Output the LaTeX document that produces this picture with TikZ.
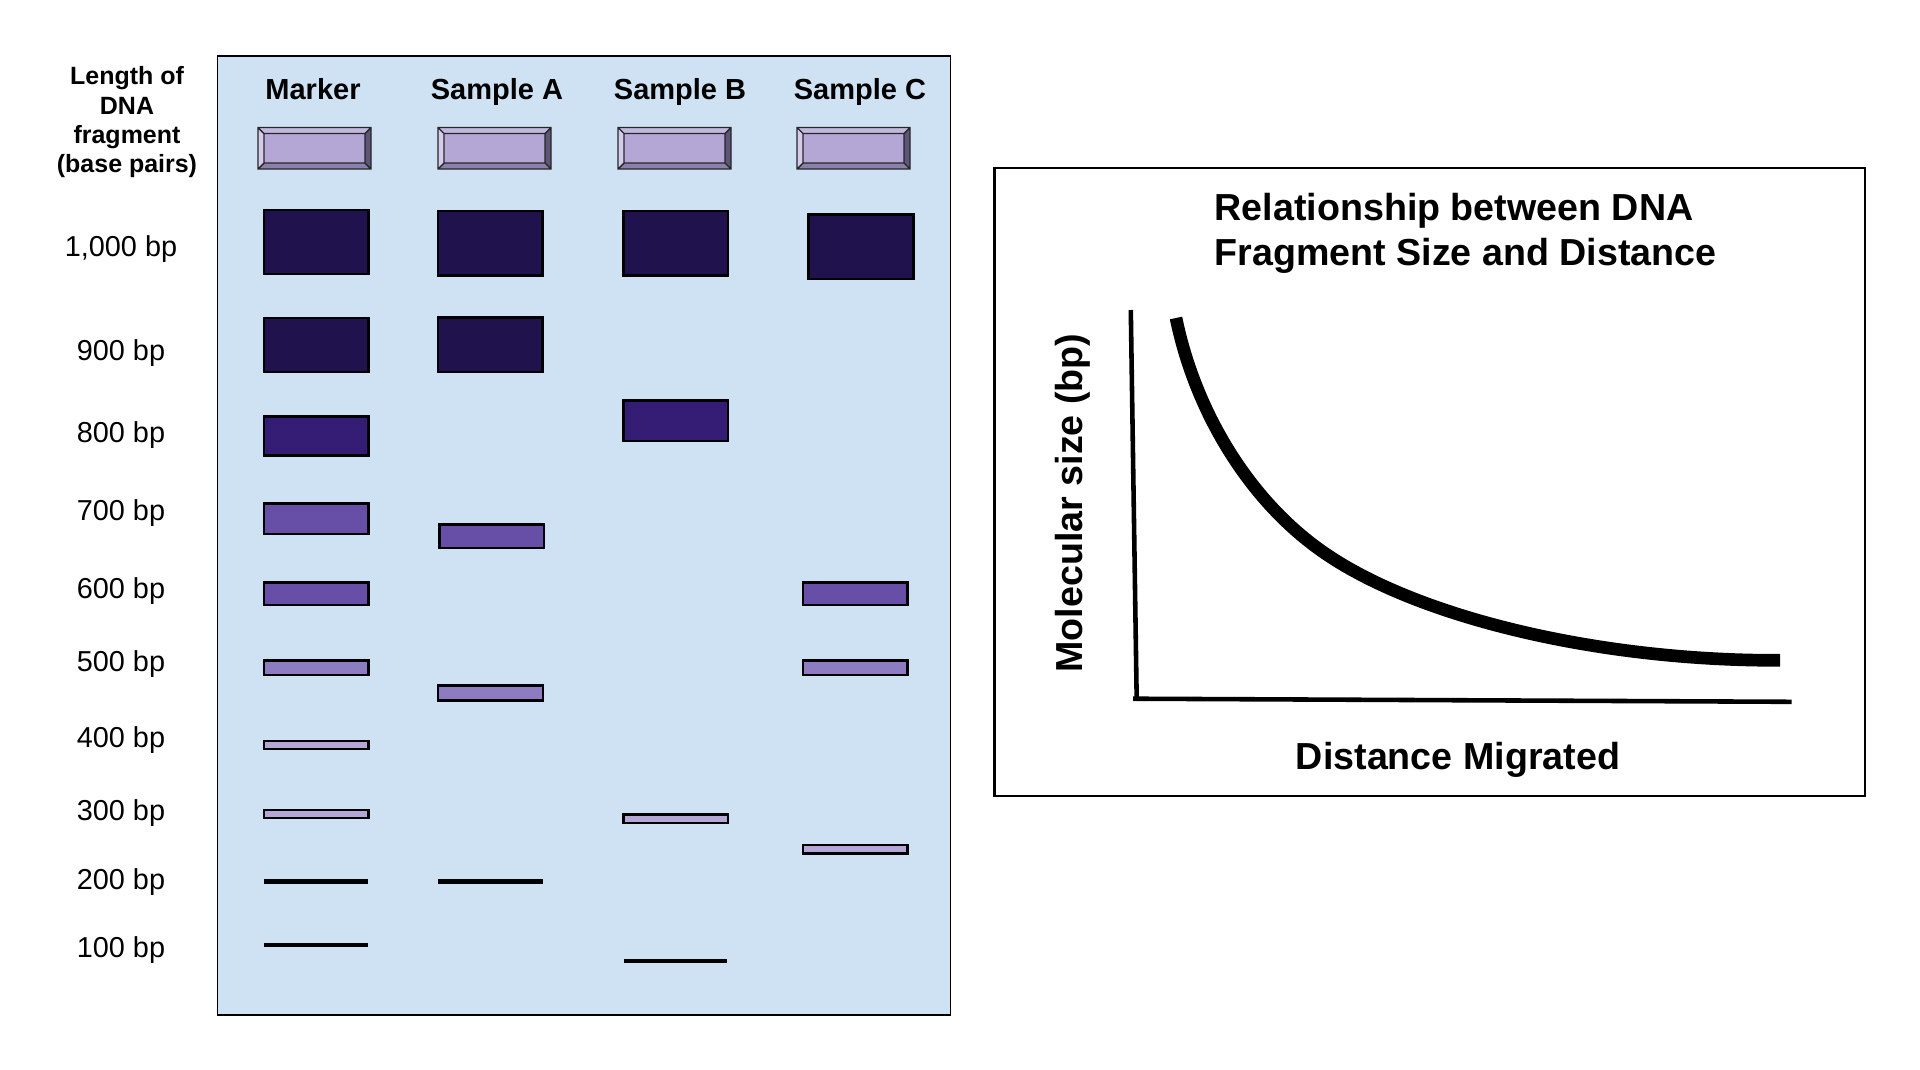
\documentclass[tikz,border=0pt]{standalone}
\usepackage{fontspec}
\setmainfont{Liberation Sans}
\definecolor{gelBlue}{HTML}{CFE2F3}
\definecolor{wellFill}{HTML}{B4A7D6}
\definecolor{wellTop}{HTML}{C2B8DF}
\definecolor{wellLight}{HTML}{D4CCEA}
\definecolor{wellDark}{HTML}{5E5677}
\definecolor{wellLow}{HTML}{8B80AA}
\definecolor{bandDark}{HTML}{20124D}
\definecolor{bandDeep}{HTML}{351C75}
\definecolor{bandMid}{HTML}{674EA7}
\definecolor{bandLight}{HTML}{8E7CC3}
\definecolor{bandPale}{HTML}{B4A7D6}

% bevelled loading well, #1 = left edge
\newcommand{\gelwell}[1]{%
  \fill[wellFill] (#1,127.5) rectangle (#1+113,169);
  \fill[wellTop] (#1,127.5) -- (#1+113,127.5) -- (#1+107,133.5) -- (#1+6,133.5) -- cycle;
  \fill[wellLight] (#1,127.5) -- (#1+6,133.5) -- (#1+6,163) -- (#1,169) -- cycle;
  \fill[wellDark] (#1+113,127.5) -- (#1+113,169) -- (#1+107,163) -- (#1+107,133.5) -- cycle;
  \fill[wellLow] (#1,169) -- (#1+113,169) -- (#1+107,163) -- (#1+6,163) -- cycle;
  \draw[line width=0.4pt, black!85]
    (#1,127.5) rectangle (#1+113,169)
    (#1+6,133.5) rectangle (#1+107,163)
    (#1,127.5) -- (#1+6,133.5) (#1+113,127.5) -- (#1+107,133.5)
    (#1,169) -- (#1+6,163) (#1+113,169) -- (#1+107,163);
}

\begin{document}
\begin{tikzpicture}[
  x=0.01cm, y=-0.01cm,
  band/.style={draw=black, line width=0.7pt},
  bpline/.style={draw=black, line width=1.3pt},
  bptext/.style={font=\fontsize{8.2}{9.8}\selectfont, anchor=base, inner sep=0},
  lanehead/.style={font=\bfseries\fontsize{8.25}{9.9}\selectfont, anchor=base, inner sep=0},
  charttext/.style={font=\bfseries\fontsize{10.7}{12.8}\selectfont, inner sep=0}
]
  \useasboundingbox (0,0) rectangle (1920,1069);
  \fill[white] (0,0) rectangle (1920,1069);

  % Gel slab
  \draw[fill=gelBlue, line width=0.5pt] (217.5,56) rectangle (950.5,1015);

  % Size column
  \node[font=\bfseries\fontsize{7.1}{8.33}\selectfont, align=center, anchor=north, inner sep=0]
    (sizehead) at (127,66) {Length of\\DNA\\fragment\\(base pairs)};
  \node[bptext] (bp1000) at (121,256.7) {1,000 bp};
  \node[bptext] (bp900) at (121,360) {900 bp};
  \node[bptext] (bp800) at (121,442.3) {800 bp};
  \node[bptext] (bp700) at (121,520.7) {700 bp};
  \node[bptext] (bp600) at (121,598.7) {600 bp};
  \node[bptext] (bp500) at (121,671.7) {500 bp};
  \node[bptext] (bp400) at (121,747.7) {400 bp};
  \node[bptext] (bp300) at (121,820.7) {300 bp};
  \node[bptext] (bp200) at (121,889.3) {200 bp};
  \node[bptext] (bp100) at (121,957.7) {100 bp};

  % Lane headers
  \node[lanehead] (marker) at (313,99.3) {Marker};
  \node[lanehead] (sampleA) at (497,99.3) {Sample A};
  \node[lanehead] (sampleB) at (680,99.3) {Sample B};
  \node[lanehead] (sampleC) at (860,99.3) {Sample C};

  % Wells
  \gelwell{258}
  \gelwell{438}
  \gelwell{618}
  \gelwell{797}

  % Marker lane
  \draw[band, fill=bandDark] (264,210) rectangle (368.5,274);
  \draw[band, fill=bandDark] (264,318) rectangle (368.5,372);
  \draw[band, fill=bandDeep] (264,416.5) rectangle (368.5,455.5);
  \draw[band, fill=bandMid] (264,503.5) rectangle (368.5,534);
  \draw[band, fill=bandMid] (264,582.5) rectangle (368.5,605);
  \draw[band, fill=bandLight] (264,660.5) rectangle (368.5,675);
  \draw[band, fill=bandPale] (264,741) rectangle (368.5,749);
  \draw[band, fill=bandPale] (264,810) rectangle (368.5,818);
  \draw[bpline] (264.3,881.3) -- (368.3,881.3);
  \draw[bpline, line width=0.95pt] (264.3,945) -- (368.3,945);

  % Sample A
  \draw[band, fill=bandDark] (438,211) rectangle (542.5,275.5);
  \draw[band, fill=bandDark] (438,317.5) rectangle (542.5,372);
  \draw[band, fill=bandMid] (439.5,524.5) rectangle (544,548);
  \draw[band, fill=bandLight] (438,685.5) rectangle (543,700.5);
  \draw[bpline] (438,881.3) -- (542.7,881.3);

  % Sample B
  \draw[band, fill=bandDark] (623.5,211) rectangle (728,275.5);
  \draw[band, fill=bandDeep] (623.5,400.5) rectangle (728,441);
  \draw[band, fill=bandPale] (623.5,814.5) rectangle (728,822.8);
  \draw[bpline, line width=0.95pt] (624,961) -- (727.4,961);

  % Sample C
  \draw[band, fill=bandDark] (808.5,214.5) rectangle (913.5,279);
  \draw[band, fill=bandMid] (803,582.5) rectangle (907.5,605);
  \draw[band, fill=bandLight] (803,660.5) rectangle (907.5,675);
  \draw[band, fill=bandPale] (803,845) rectangle (907.5,853.4);

  % Chart frame and title
  \draw[line width=0.7pt] (994.5,168) rectangle (1865,796);
  \node[charttext, anchor=base west] (title1) at (1214,220) {Relationship between DNA};
  \node[charttext, anchor=base west] (title2) at (1214,265.5) {Fragment Size and Distance};

  % Axes
  \draw[line width=1.3pt] (1130.8,310) -- (1136.7,700);
  \draw[line width=1.3pt] (1133,698.7) -- (1791.7,701.8);

  % Size vs distance curve
  \draw[line width=3.6pt] (1176,318) .. controls (1196,415) and (1252,504) .. (1326,554)
    .. controls (1420,618) and (1600,661) .. (1780,660.3);

  % Axis labels
  \node[charttext, rotate=90, anchor=base] (ylab) at (1082.5,503) {Molecular size (bp)};
  \node[charttext, anchor=base] (xlab) at (1458,769) {Distance Migrated};
\end{tikzpicture}
\end{document}
